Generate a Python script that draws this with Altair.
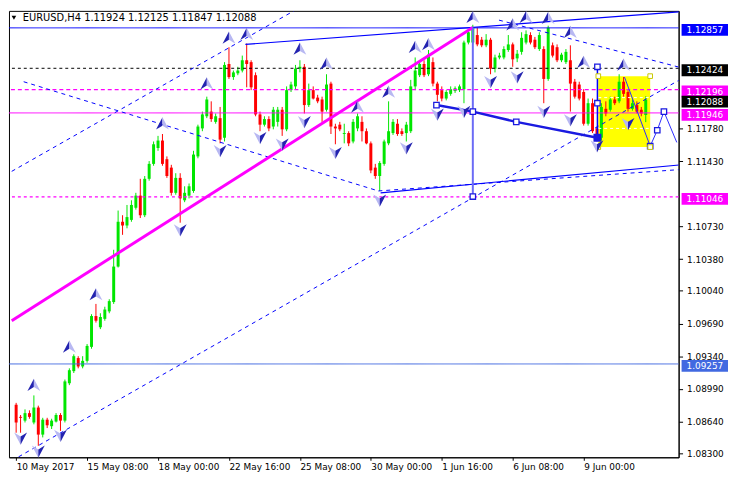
import json
import altair as alt
import pandas as pd

# ---------------- candle data (EURUSD H4) ----------------
opens = [
    1.0882, 1.0869, 1.0865, 1.0873, 1.0863, 1.0879, 1.0850, 1.0866, 1.0859, 1.0864,
    1.0871, 1.0865, 1.0905, 1.0918, 1.0932, 1.0923, 1.0929, 1.0944, 1.0977, 1.0965,
    1.0974, 1.0982, 1.0992, 1.1030, 1.1078, 1.1074, 1.1080, 1.1093, 1.1106, 1.1085,
    1.1124, 1.1140, 1.1157, 1.1165, 1.1145, 1.1136, 1.1109, 1.1125, 1.1101, 1.1106,
    1.1111, 1.1148, 1.1178, 1.1191, 1.1196, 1.1185, 1.1189, 1.1168, 1.1247, 1.1233,
    1.1237, 1.1240, 1.1251, 1.1249, 1.1235, 1.1193, 1.1182, 1.1188, 1.1180, 1.1185,
    1.1198, 1.1177, 1.1219, 1.1223, 1.1242, 1.1244, 1.1203, 1.1219, 1.1211, 1.1209,
    1.1198, 1.1226, 1.1180, 1.1182, 1.1172, 1.1173, 1.1164, 1.1178, 1.1185, 1.1175,
    1.1162, 1.1136, 1.1127, 1.1140, 1.1162, 1.1173, 1.1183, 1.1175, 1.1173, 1.1175,
    1.1223, 1.1235, 1.1247, 1.1236, 1.1249, 1.1226, 1.1219, 1.1210, 1.1215, 1.1218,
    1.1219, 1.1220, 1.1270, 1.1270, 1.1278, 1.1273, 1.1267, 1.1273, 1.1242, 1.1254,
    1.1254, 1.1262, 1.1268, 1.1253, 1.1260, 1.1270, 1.1278, 1.1273, 1.1263, 1.1263,
    1.1231, 1.1267, 1.1265, 1.1251, 1.1249, 1.1251, 1.1228, 1.1225, 1.1217, 1.1183,
    1.1205, 1.1178, 1.1168, 1.1199, 1.1198, 1.1209, 1.1207, 1.1228, 1.1217, 1.1199,
    1.1203, 1.1198, 1.11924,
]
highs = [
    1.0884, 1.0871, 1.0877, 1.0876, 1.0892, 1.0881, 1.0868, 1.0868, 1.0867, 1.0873,
    1.0873, 1.0909, 1.0921, 1.0936, 1.0934, 1.0934, 1.0947, 1.0979, 1.0990, 1.0980,
    1.0987, 1.0995, 1.1048, 1.1090, 1.1085, 1.1096, 1.1101, 1.1109, 1.1124, 1.1127,
    1.1143, 1.1164, 1.1170, 1.1172, 1.1148, 1.1139, 1.1130, 1.1130, 1.1116, 1.1119,
    1.1154, 1.1182, 1.1196, 1.1212, 1.1207, 1.1194, 1.1201, 1.1249, 1.1265, 1.1240,
    1.1244, 1.1256, 1.1269, 1.1251, 1.1238, 1.1196, 1.1191, 1.1191, 1.1201, 1.1201,
    1.1201, 1.1223, 1.1228, 1.1246, 1.1251, 1.1247, 1.1226, 1.1223, 1.1214, 1.1212,
    1.1236, 1.1228, 1.1183, 1.1185, 1.1183, 1.1175, 1.1188, 1.1194, 1.1191, 1.1178,
    1.1164, 1.1140, 1.1143, 1.1166, 1.1207, 1.1188, 1.1188, 1.1178, 1.1185, 1.1230,
    1.1254, 1.1249, 1.1251, 1.1262, 1.1254, 1.1228, 1.1223, 1.1219, 1.1223, 1.1223,
    1.1225, 1.1272, 1.1283, 1.1289, 1.1286, 1.1276, 1.1279, 1.1275, 1.1257, 1.1259,
    1.1266, 1.1278, 1.1270, 1.1262, 1.1281, 1.1283, 1.1281, 1.1276, 1.1281, 1.1266,
    1.1288, 1.1270, 1.1268, 1.1259, 1.1263, 1.1267, 1.1231, 1.1228, 1.1220, 1.1210,
    1.1210, 1.1180, 1.1205, 1.1207, 1.1212, 1.1212, 1.1236, 1.1233, 1.1219, 1.1209,
    1.1207, 1.1201, 1.12125,
]
lows = [
    1.0852, 1.0852, 1.0863, 1.0867, 1.0861, 1.0838, 1.0847, 1.0857, 1.0856, 1.0863,
    1.0854, 1.0863, 1.0903, 1.0916, 1.0921, 1.0921, 1.0927, 1.0942, 1.0970, 1.0963,
    1.0972, 1.0980, 1.0990, 1.1029, 1.1064, 1.1071, 1.1078, 1.1091, 1.1082, 1.1083,
    1.1122, 1.1138, 1.1154, 1.1138, 1.1125, 1.1106, 1.1107, 1.1077, 1.1099, 1.1103,
    1.1109, 1.1146, 1.1175, 1.1189, 1.1185, 1.1183, 1.1162, 1.1164, 1.1231, 1.1230,
    1.1235, 1.1238, 1.1222, 1.1219, 1.1191, 1.1175, 1.1180, 1.1175, 1.1177, 1.1180,
    1.1170, 1.1175, 1.1217, 1.1220, 1.1238, 1.1194, 1.1201, 1.1209, 1.1205, 1.1185,
    1.1196, 1.1172, 1.1161, 1.1175, 1.1162, 1.1159, 1.1162, 1.1175, 1.1164, 1.1161,
    1.1130, 1.1124, 1.1111, 1.1138, 1.1160, 1.1171, 1.1170, 1.1170, 1.1164, 1.1173,
    1.1219, 1.1233, 1.1233, 1.1234, 1.1223, 1.1207, 1.1207, 1.1208, 1.1213, 1.1216,
    1.1217, 1.1205, 1.1268, 1.1268, 1.1266, 1.1265, 1.1265, 1.1236, 1.1238, 1.1252,
    1.1252, 1.1260, 1.1244, 1.1249, 1.1257, 1.1268, 1.1268, 1.1263, 1.1261, 1.1205,
    1.1229, 1.1254, 1.1249, 1.1249, 1.1247, 1.1196, 1.1210, 1.1208, 1.1181, 1.1181,
    1.1173, 1.1164, 1.1165, 1.1191, 1.1196, 1.1203, 1.1205, 1.1212, 1.1196, 1.1197,
    1.1194, 1.1191, 1.11847,
]
closes = [
    1.0863, 1.0868, 1.0873, 1.0869, 1.0879, 1.0850, 1.0866, 1.0860, 1.0865, 1.0871,
    1.0865, 1.0907, 1.0919, 1.0934, 1.0923, 1.0929, 1.0945, 1.0977, 1.0972, 1.0976,
    1.0984, 1.0993, 1.1030, 1.1078, 1.1074, 1.1083, 1.1096, 1.1106, 1.1085, 1.1124,
    1.1140, 1.1161, 1.1165, 1.1140, 1.1127, 1.1109, 1.1125, 1.1103, 1.1109, 1.1116,
    1.1150, 1.1180, 1.1193, 1.1209, 1.1188, 1.1191, 1.1166, 1.1246, 1.1233, 1.1238,
    1.1240, 1.1251, 1.1247, 1.1222, 1.1193, 1.1182, 1.1188, 1.1178, 1.1198, 1.1198,
    1.1177, 1.1219, 1.1225, 1.1242, 1.1244, 1.1203, 1.1219, 1.1210, 1.1207, 1.1196,
    1.1225, 1.1180, 1.1178, 1.1177, 1.1173, 1.1162, 1.1185, 1.1191, 1.1175, 1.1162,
    1.1133, 1.1127, 1.1141, 1.1164, 1.1175, 1.1185, 1.1172, 1.1172, 1.1182, 1.1223,
    1.1240, 1.1247, 1.1235, 1.1257, 1.1226, 1.1214, 1.1210, 1.1217, 1.1220, 1.1221,
    1.1223, 1.1270, 1.1281, 1.1286, 1.1268, 1.1267, 1.1273, 1.1242, 1.1254, 1.1256,
    1.1263, 1.1268, 1.1252, 1.1258, 1.1275, 1.1279, 1.1270, 1.1265, 1.1278, 1.1231,
    1.1286, 1.1256, 1.1251, 1.1257, 1.1260, 1.1226, 1.1212, 1.1210, 1.1183, 1.1205,
    1.1175, 1.1166, 1.1201, 1.1194, 1.1209, 1.1205, 1.1228, 1.1215, 1.1199, 1.1205,
    1.1196, 1.1194, 1.12088,
]

# ---------------- axes ----------------
date_ticks = [0, 16, 32, 48, 64, 80, 96, 112, 128]
date_labels = ["10 May 2017", "15 May 08:00", "18 May 00:00", "22 May 16:00",
               "25 May 08:00", "30 May 00:00", "1 Jun 16:00", "6 Jun 08:00", "9 Jun 00:00"]
price_ticks = [1.0830, 1.0864, 1.0899, 1.0934, 1.0969, 1.1004, 1.1038, 1.1073, 1.1143, 1.1178]

# ---------------- horizontal levels ----------------
level_prices = [1.12857, 1.12424, 1.12196, 1.11946, 1.11046, 1.09257]
level_colors = ["#0000ff", "#000000", "#ff00ff", "#ff00ff", "#ff00ff", "#4169e1"]
level_dashes = [[1, 0], [3, 3], [4, 3], [1, 0], [3, 3], [1, 0]]
level_widths = [1, 1, 1.3, 1, 1.3, 1]

tag_prices = [1.12857, 1.12424, 1.12196, 1.12088, 1.11946, 1.11046, 1.09257]
tag_colors = ["#0000ff", "#000000", "#ff00ff", "#000000", "#ff00ff", "#ff00ff", "#4169e1"]

# ---------------- drawn objects (bar index, price) ----------------
trend_i = [-1, 103]
trend_p = [1.0972, 1.1286]

upper_ch_i = [51.7, 150]
upper_ch_p = [1.1268, 1.1303]
lower_ch_i = [82.2, 150]
lower_ch_p = [1.1109, 1.1139]

dash_a_i = [-1, 150]
dash_a_p = [1.0822, 1.1231]
dash_b_i = [-1, 66]
dash_b_p = [1.1132, 1.1313]
dash_c_i = [1.7, 81.7]
dash_c_p = [1.1228, 1.1111]
dash_d_i = [108.9, 150]
dash_d_p = [1.1294, 1.1243]
dash_e_i = [81.7, 150]
dash_e_p = [1.1111, 1.1134]

vert1_i = [103, 103]
vert1_p = [1.1286, 1.1105]
vert2_i = [131.1, 131.1]
vert2_p = [1.1244, 1.1168]

thick_i = [94.8, 103, 112.8, 131.1]
thick_p = [1.1203, 1.1196, 1.1185, 1.1168]

zig_i = [137.2, 143.0, 144.6, 146.1, 149.0]
zig_p = [1.1233, 1.1159, 1.1176, 1.1196, 1.1163]

box_i = [131.3, 143.0]
box_p = [1.1234, 1.1158]
box_line_p = [1.1211, 1.1178]

hollow_sq_i = [94.8, 103, 112.8, 103, 131.1, 131.1, 143.0, 144.6, 146.1]
hollow_sq_p = [1.1203, 1.1196, 1.1185, 1.1105, 1.1244, 1.1205, 1.1159, 1.1176, 1.1196]
solid_sq_i = [131.1]
solid_sq_p = [1.1168]
corner_i = [131.3, 143.0, 131.3, 143.0]
corner_p = [1.1234, 1.1234, 1.1158, 1.1158]

arrow_up_i = [4, 12, 18, 33, 43, 48, 52, 64, 70, 77, 84, 90, 93, 103, 112, 115, 120, 125, 128, 137]
arrow_up_p = [1.0903, 1.0944, 1.1000, 1.1183, 1.1226, 1.1275, 1.1279, 1.1263, 1.1247, 1.1201,
              1.1217, 1.1265, 1.1268, 1.1297, 1.1289, 1.1297, 1.1296, 1.1281, 1.1249, 1.1246]
arrow_dn_i = [1, 5, 10, 37, 46, 55, 60, 65, 72, 82, 88, 95, 101, 107, 113, 119, 125, 131, 138]
arrow_dn_p = [1.0846, 1.0832, 1.0849, 1.1069, 1.1154, 1.1168, 1.1161, 1.1185, 1.1152, 1.1101,
              1.1157, 1.1193, 1.1196, 1.1228, 1.1233, 1.1196, 1.1187, 1.1159, 1.1183]

title_text = "EURUSD,H4  1.11924 1.12125 1.11847 1.12088"

# ---------------- chart ----------------
FONT = "DejaVu Sans"
W, H = 678, 452
xs = alt.Scale(domain=[-0.5, 148.3], nice=False, zero=False)
ys = alt.Scale(domain=[1.08257, 1.13039], nice=False, zero=False)

x_axis = alt.Axis(values=date_ticks,
                  labelExpr=f"{json.dumps(date_labels)}[indexof({json.dumps(date_ticks)}, datum.value)]",
                  labelAlign="left", labelBaseline="top", labelPadding=2, tickSize=3,
                  labelFont=FONT, labelFontSize=9, labelColor="black", tickColor="black",
                  domainColor="black", grid=False, title=None, labelFlush=False, labelOverlap=False)
y_axis = alt.Axis(orient="right", values=price_ticks, format=".5f", tickSize=4, labelPadding=4,
                  labelFont=FONT, labelFontSize=9, labelColor="black", tickColor="black",
                  domainColor="black", grid=False, title=None, labelFlush=False, labelOverlap=False)


def X(field="i"):
    return alt.X(f"{field}:Q", scale=xs, axis=x_axis, title=None)


def Y(field="p"):
    return alt.Y(f"{field}:Q", scale=ys, axis=y_axis, title=None)


bars = pd.DataFrame({"i": range(len(opens)), "open": opens, "high": highs,
                     "low": lows, "close": closes})
bars["dir"] = ["up" if c >= o else "down" for o, c in zip(opens, closes)]
candle_color = alt.Color("dir:N", scale=alt.Scale(domain=["up", "down"],
                                                  range=["#00e600", "#ff0000"]), legend=None)

layers = []

# yellow rectangle (background object)
box_df = pd.DataFrame({"i": [box_i[0]], "i2": [box_i[1]], "p": [box_p[0]], "p2": [box_p[1]]})
layers.append(alt.Chart(box_df).mark_rect(color="#ffff00", opacity=1).encode(
    x=X(), x2="i2:Q", y=Y(), y2="p2:Q"))

# candles
layers.append(alt.Chart(bars).mark_rule(strokeWidth=1).encode(
    x=X(), y=Y("low"), y2="high:Q", color=candle_color))
layers.append(alt.Chart(bars).mark_bar(size=3, strokeWidth=0).encode(
    x=X(), y=Y("open"), y2="close:Q", color=candle_color))

# horizontal levels
for p, c, d, w in zip(level_prices, level_colors, level_dashes, level_widths):
    layers.append(alt.Chart(pd.DataFrame({"p": [p]})).mark_rule(
        color=c, strokeWidth=w, strokeDash=d).encode(y=Y()))

# white dashed lines inside the yellow box
for p in box_line_p:
    layers.append(alt.Chart(pd.DataFrame({"i": box_i, "p": [p, p], "k": [0, 1]})).mark_line(
        color="white", strokeWidth=1, strokeDash=[3, 3]).encode(x=X(), y=Y(), order="k:Q"))


def poly(xv, pv, color, width=1.0, dash=None):
    df = pd.DataFrame({"i": xv, "p": pv, "k": list(range(len(xv)))})
    kw = dict(color=color, strokeWidth=width, clip=True)
    if dash:
        kw["strokeDash"] = dash
    return alt.Chart(df).mark_line(**kw).encode(x=X(), y=Y(), order="k:Q")


BLUE = "#0000ff"
layers += [
    poly(dash_a_i, dash_a_p, BLUE, 1, [4, 4]),
    poly(dash_b_i, dash_b_p, BLUE, 1, [4, 4]),
    poly(dash_c_i, dash_c_p, BLUE, 1, [4, 4]),
    poly(dash_d_i, dash_d_p, BLUE, 1, [4, 4]),
    poly(dash_e_i, dash_e_p, BLUE, 1, [4, 4]),
    poly(upper_ch_i, upper_ch_p, BLUE, 1.2),
    poly(lower_ch_i, lower_ch_p, BLUE, 1.2),
    poly(trend_i, trend_p, "#ff00ff", 3),
    poly(vert1_i, vert1_p, "#6b6bf5", 2),
    poly(vert2_i, vert2_p, BLUE, 1.5),
    poly(thick_i, thick_p, "#1a1ae0", 2.5),
    poly(zig_i, zig_p, "#2a2aff", 1),
]

# square handles
layers.append(alt.Chart(pd.DataFrame({"i": hollow_sq_i, "p": hollow_sq_p})).mark_point(
    shape="square", filled=True, fill="white", stroke="#1a1ae0", strokeWidth=1.3,
    size=30, opacity=1).encode(x=X(), y=Y()))
layers.append(alt.Chart(pd.DataFrame({"i": solid_sq_i, "p": solid_sq_p})).mark_point(
    shape="square", filled=True, fill="#1a1ae0", stroke="#1a1ae0", size=36,
    opacity=1).encode(x=X(), y=Y()))
layers.append(alt.Chart(pd.DataFrame({"i": corner_i, "p": corner_p})).mark_point(
    shape="square", filled=True, fill="white", stroke="#c8c800", strokeWidth=1,
    size=22, opacity=1).encode(x=X(), y=Y()))

# fractal arrows (two-tone)
up_df = pd.DataFrame({"i": arrow_up_i, "p": arrow_up_p})
dn_df = pd.DataFrame({"i": arrow_dn_i, "p": arrow_dn_p})
for df, path, col in [
    (up_df, "M0,-1L0,0.3L-1,0.9Z", "#2323b0"),
    (up_df, "M0,-1L1,0.9L0,0.3Z", "#b8b8f2"),
    (dn_df, "M0,1L0,-0.3L-1,-0.9Z", "#b8b8f2"),
    (dn_df, "M0,1L1,-0.9L0,-0.3Z", "#2323b0"),
]:
    layers.append(alt.Chart(df).mark_point(shape=path, filled=True, color=col, size=170,
                                           opacity=1, strokeWidth=0).encode(x=X(), y=Y()))

# price tags on the right axis
tags = pd.DataFrame({"p": tag_prices, "c": tag_colors,
                     "t": [f"{v:.5f}" for v in tag_prices]})
layers.append(alt.Chart(tags).mark_tick(orient="horizontal", thickness=12, size=47,
                                        opacity=1, yOffset=2).encode(
    x=alt.value(W + 26.5), y=Y(), color=alt.Color("c:N", scale=None)))
layers.append(alt.Chart(tags).mark_text(align="left", baseline="middle", font=FONT,
                                        fontSize=9, color="white", yOffset=2).encode(
    x=alt.value(W + 8), y=Y(), text="t:N"))

# chart caption inside the plot
cap = pd.DataFrame({"t": [title_text]})
layers.append(alt.Chart(cap).mark_text(align="left", baseline="middle", font=FONT,
                                       fontSize=10, color="black").encode(
    x=alt.value(14), y=alt.value(7), text="t:N"))
layers.append(alt.Chart(cap).mark_point(shape="triangle-down", filled=True, color="black",
                                        size=22, opacity=1).encode(
    x=alt.value(5), y=alt.value(7)))

chart = alt.layer(*layers).properties(width=W, height=H, padding=0, background="white")
chart = chart.configure_view(stroke="black", strokeWidth=1)

chart.save("out.html", embed_options={"renderer": "svg", "actions": False})
